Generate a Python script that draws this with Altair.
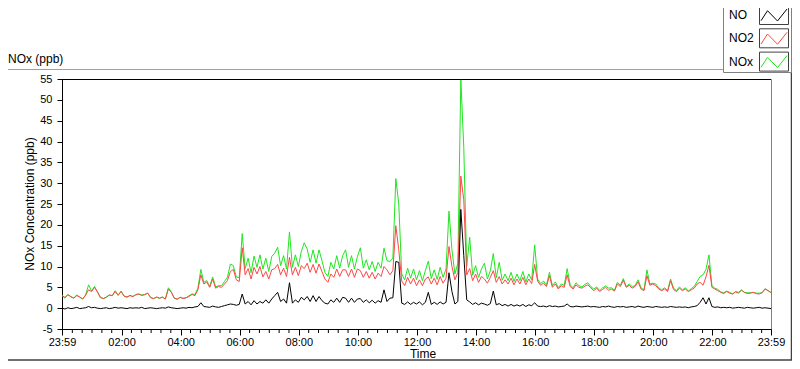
import altair as alt
import pandas as pd

# ---------------- data ----------------
# minutes since 23:59 of the previous day, one sample every 6 minutes
minutes = list(range(0, 1441, 6))

no2 = [
    3.0, 2.6, 3.2, 2.8, 2.4, 3.0, 2.7, 2.2, 3.1, 4.4,
    4.0, 5.0, 3.9, 2.6, 2.3, 2.6, 3.2, 3.0, 4.0, 3.1,
    4.0, 2.9, 2.7, 3.0, 2.8, 3.2, 3.4, 3.0, 3.3, 3.6,
    2.5, 2.3, 2.7, 2.4, 2.6, 2.2, 4.6, 3.8, 2.4, 2.2,
    2.6, 2.3, 2.5, 2.8, 3.3, 3.0, 4.4, 8.0, 5.8, 6.3,
    5.0, 7.0, 4.8, 5.2, 5.0, 5.8, 6.6, 8.8, 9.3, 6.8,
    6.4, 14.5, 8.0, 9.5, 7.0, 9.8, 8.2, 10.0, 7.5, 8.8,
    7.0, 9.2, 9.5, 10.5, 8.0, 9.6, 7.6, 12.2, 8.0, 9.8,
    7.8, 10.2, 9.5, 10.8, 8.6, 10.5, 8.4, 10.6, 8.8, 7.0,
    6.2, 8.2, 7.4, 9.4, 7.6, 9.2, 9.2, 7.6, 9.4, 7.4,
    9.4, 9.0, 7.4, 8.8, 7.2, 8.6, 7.0, 8.4, 7.6, 10.0,
    9.2, 8.0, 9.0, 19.8, 14.0, 6.5, 5.4, 7.4, 5.8, 7.2,
    5.4, 6.8, 5.4, 7.0, 7.5, 5.8, 7.2, 5.6, 7.6, 6.0,
    7.2, 14.8, 10.0, 6.8, 8.6, 31.7, 26.0, 8.0, 9.5, 6.6,
    8.2, 6.2, 7.6, 7.0, 6.0, 7.4, 9.0, 6.2, 7.6, 5.8,
    6.8, 5.8, 7.2, 5.6, 7.0, 5.8, 7.4, 5.6, 7.0, 5.9,
    10.5, 6.5, 5.5, 6.0, 5.2, 7.8, 5.0, 5.8, 4.6, 5.4,
    5.0, 8.0, 5.2, 4.6, 5.6, 5.0, 4.8, 5.3, 5.6, 4.9,
    4.2, 4.8, 4.0, 4.5, 5.0, 4.3, 4.6, 4.1, 5.8, 5.2,
    6.7, 5.0, 5.5, 4.8, 5.2, 6.3, 4.6, 4.2, 7.8, 5.5,
    5.8, 5.4, 4.6, 4.2, 4.6, 4.0, 6.6, 4.5, 4.0, 4.8,
    4.2, 4.6, 4.0, 4.4, 4.8, 5.8, 6.2, 5.5, 7.5, 10.3,
    5.0, 4.6, 4.2, 3.8, 3.5, 4.0, 3.6, 3.4, 3.9, 3.6,
    4.3, 3.8, 3.5, 3.6, 3.8, 3.5, 3.4, 3.7, 4.6, 4.2, 3.8,
]

no = [
    0.0, -0.2, 0.1, -0.1, 0.0, 0.2, -0.1, 0.0, 0.1, 0.4,
    0.1, 0.2, 0.0, -0.1, 0.0, 0.1, -0.1, 0.0, 0.2, 0.0,
    0.1, 0.0, -0.1, 0.1, 0.0, 0.1, 0.0, 0.2, -0.1, 0.0,
    0.1, 0.0, -0.1, 0.0, 0.1, 0.0, 0.3, 0.1, 0.0, -0.1,
    0.0, 0.1, 0.0, 0.2, 0.1, 0.3, 0.4, 1.3, 0.4, 0.3,
    0.2, 0.5, 0.3, 0.2, 0.4, 0.6, 0.8, 1.0, 0.9, 0.7,
    0.9, 3.4, 1.0, 1.6, 0.8, 1.8, 1.0, 1.6, 1.2, 2.0,
    1.2, 2.2, 3.0, 3.8, 1.6, 2.2, 1.2, 6.1, 1.2, 2.0,
    1.4, 2.6, 2.0, 2.8, 1.6, 3.0, 1.6, 2.8, 1.8, 1.2,
    1.0, 2.0, 1.4, 2.4, 1.4, 2.6, 2.4, 1.4, 2.4, 1.4,
    2.2, 2.3, 1.4, 2.0, 1.3, 1.9, 1.2, 1.8, 1.4, 4.4,
    1.6, 2.4, 2.5, 11.2, 11.0, 1.2, 0.9, 1.5, 0.9, 1.4,
    1.0, 1.5, 0.8, 1.4, 3.8, 0.9, 1.4, 0.9, 1.5, 1.0,
    1.4, 8.5, 4.0, 1.0, 1.6, 23.7, 12.6, 2.0, 1.5, 0.9,
    1.3, 0.8, 1.2, 1.0, 0.7, 1.1, 4.1, 0.8, 1.1, 0.6,
    0.9, 0.5, 0.9, 0.5, 0.8, 0.5, 0.9, 0.4, 0.8, 0.6,
    1.3, 0.5, 0.4, 0.5, 0.3, 0.6, 0.4, 0.5, 0.3, 0.4,
    0.5, 1.0, 0.4, 0.3, 0.5, 0.4, 0.3, 0.4, 0.5, 0.3,
    0.4, 0.3, 0.2, 0.4, 0.3, 0.5, 0.3, 0.2, 0.4, 0.3,
    0.4, 0.2, 0.3, 0.4, 0.2, 0.5, 0.3, 0.2, 0.4, 0.3,
    0.2, 0.4, 0.3, 0.2, 0.3, 0.2, 0.4, 0.3, 0.2, 0.3,
    0.2, 0.3, 0.1, 0.3, 0.4, 0.6, 1.4, 2.5, 1.0, 2.5,
    0.4, 0.2, 0.3, 0.1, 0.2, 0.1, 0.2, 0.0, 0.1, 0.2,
    0.1, 0.0, 0.2, 0.1, 0.0, 0.1, 0.2, 0.0, 0.1, 0.0, -0.1,
]

nox = [
    3.0, 2.4, 3.3, 2.7, 2.4, 3.2, 2.6, 2.2, 3.2, 5.6,
    4.1, 5.2, 3.9, 2.5, 2.3, 2.7, 3.1, 3.0, 4.2, 3.1,
    4.1, 2.9, 2.6, 3.1, 2.8, 3.3, 3.4, 3.2, 3.2, 3.6,
    2.6, 2.3, 2.6, 2.4, 2.7, 2.2, 4.9, 3.9, 2.4, 2.1,
    2.6, 2.4, 2.5, 3.0, 3.4, 3.3, 4.8, 9.3, 6.2, 6.6,
    5.2, 7.5, 5.1, 5.4, 5.4, 6.4, 7.4, 10.6, 10.2, 7.5,
    7.3, 17.9, 9.5, 12.0, 8.5, 12.5, 9.8, 12.8, 9.4, 12.0,
    8.8, 12.4, 13.2, 14.6, 10.2, 12.6, 9.4, 18.3, 9.8, 12.8,
    10.0, 13.6, 15.7, 14.2, 11.0, 14.0, 10.8, 14.0, 11.4, 8.6,
    7.6, 11.0, 9.4, 12.6, 9.6, 12.6, 14.0, 9.8, 12.6, 9.4,
    12.4, 14.5, 9.6, 11.6, 9.2, 11.2, 8.8, 11.0, 9.6, 14.4,
    11.4, 11.2, 12.0, 31.1, 25.0, 8.2, 6.8, 9.6, 7.2, 9.4,
    6.8, 9.0, 6.6, 9.0, 11.3, 7.1, 9.2, 6.9, 9.8, 7.4,
    9.4, 23.3, 14.0, 8.2, 10.8, 55.0, 38.6, 10.0, 17.0, 7.9,
    10.2, 7.4, 9.4, 10.8, 7.0, 9.0, 13.1, 7.3, 11.0, 6.7,
    8.2, 6.6, 8.6, 6.4, 8.2, 6.6, 8.8, 6.3, 8.2, 6.8,
    15.2, 7.0, 5.9, 6.5, 5.5, 8.6, 5.4, 6.3, 4.9, 5.8,
    5.5, 9.5, 5.6, 4.9, 6.1, 5.4, 5.1, 5.7, 6.1, 5.2,
    4.6, 5.1, 4.2, 4.9, 5.3, 4.8, 4.9, 4.3, 6.2, 5.5,
    7.1, 5.2, 5.8, 5.2, 5.4, 6.8, 4.9, 4.4, 9.2, 5.8,
    6.0, 5.8, 4.9, 4.4, 4.9, 4.2, 7.0, 4.8, 4.2, 5.1,
    4.4, 4.9, 4.1, 4.7, 5.2, 6.4, 7.6, 8.0, 9.3, 12.8,
    5.4, 4.8, 4.5, 3.9, 3.7, 4.1, 3.8, 3.4, 4.0, 3.8,
    4.4, 3.8, 3.7, 3.7, 3.8, 3.6, 3.6, 3.7, 4.7, 4.2, 3.7,
]

legend_names = ["NO", "NO2", "NOx"]
legend_colors = ["#000000", "#ff4646", "#1ee61e"]

major_ticks = [0, 121, 241, 361, 481, 601, 721, 841, 961, 1081, 1201, 1321, 1440]
minor_ticks = [m for m in range(21, 1440, 20) if (m - 1) % 120 != 0]
y_ticks = list(range(-5, 56, 5))

chart_title = "NOx (ppb)"
y_title = "NOx Concentration (ppb)"
x_title = "Time"

# ---------------- styling ----------------
FONT = "Liberation Sans"
FS = 12      # titles / legend
FL = 11      # tick labels
W, H = 709, 250

x_enc = alt.X(
    "t:Q",
    scale=alt.Scale(domain=[0, 1440], nice=False, zero=False),
    axis=alt.Axis(
        values=major_ticks,
        labelExpr="timeFormat(datetime(2000, 0, 1, 0, (datum.value + 1439) % 1440), '%H:%M')",
        title=None, grid=False, tickSize=6, labelPadding=1,
        labelFlush=False, labelOverlap=False,
        domainColor="black", tickColor="black", labelColor="black",
        labelFont=FONT, labelFontSize=FL,
    ),
)
y_enc = alt.Y(
    "v:Q",
    scale=alt.Scale(domain=[-5, 55], nice=False, zero=False),
    axis=alt.Axis(
        values=y_ticks, labelExpr="'' + datum.value",
        title=None, grid=False, tickSize=5, labelPadding=5,
        labelFlush=False, labelOverlap=False,
        domainColor="black", tickColor="black", labelColor="black",
        labelFont=FONT, labelFontSize=FL,
    ),
)


def sdf(vals):
    return pd.DataFrame({"t": minutes, "v": vals})


one = pd.DataFrame({"k": [0]})

layers = []
# data lines: NOx behind, NO2, then NO on top
for vals, col in [(nox, legend_colors[2]), (no2, legend_colors[1]), (no, legend_colors[0])]:
    layers.append(
        alt.Chart(sdf(vals)).mark_line(color=col, strokeWidth=1).encode(x=x_enc, y=y_enc)
    )

# minor x ticks
layers.append(
    alt.Chart(pd.DataFrame({"t": minor_ticks, "v": [0] * len(minor_ticks)}))
    .mark_rule(color="black", strokeWidth=1)
    .encode(x=x_enc, y=alt.value(H + 1), y2=alt.value(H + 4))
)

# top border of plot (black)
layers.append(
    alt.Chart(one).mark_rule(color="black", strokeWidth=1)
    .encode(x=alt.value(0), x2=alt.value(W), y=alt.value(0.5))
)

# outer panel frame
RIGHT = 729.5
layers.append(
    alt.Chart(one).mark_rule(color="#a0a0a0", strokeWidth=1)
    .encode(x=alt.value(-54), x2=alt.value(661), y=alt.value(-9.5))
)
layers.append(
    alt.Chart(one).mark_rule(color="#404040", strokeWidth=1.5)
    .encode(x=alt.value(RIGHT), y=alt.value(-7), y2=alt.value(281.5))
)
layers.append(
    alt.Chart(one).mark_rule(color="#404040", strokeWidth=1.5)
    .encode(x=alt.value(-54), x2=alt.value(RIGHT), y=alt.value(281))
)

# texts
layers.append(
    alt.Chart(one).mark_text(text=chart_title, font=FONT, fontSize=FS, align="left",
                             baseline="middle", color="black")
    .encode(x=alt.value(-54), y=alt.value(-20))
)
layers.append(
    alt.Chart(one).mark_text(text=y_title, font=FONT, fontSize=FS, align="center",
                             baseline="middle", angle=270, color="black")
    .encode(x=alt.value(-32), y=alt.value(H / 2))
)
layers.append(
    alt.Chart(one).mark_text(text=x_title, font=FONT, fontSize=FS, align="center",
                             baseline="middle", color="black")
    .encode(x=alt.value(361), y=alt.value(275))
)

# legend box
layers.append(
    alt.Chart(one).mark_rect(fill="white", stroke="#808080", strokeWidth=1)
    .encode(x=alt.value(661.5), x2=alt.value(RIGHT), y=alt.value(-80), y2=alt.value(-6.5))
)
ZIG = "M -1 0.44 L -0.5 -0.33 L 0.27 0.46 L 1 -0.46"
for k, (name, col) in enumerate(zip(legend_names, legend_colors)):
    yc = -64 + k * 23.3
    layers.append(
        alt.Chart(one).mark_text(text=name, font=FONT, fontSize=FS, align="left",
                                 baseline="middle", color="black")
        .encode(x=alt.value(667), y=alt.value(yc))
    )
    layers.append(
        alt.Chart(one).mark_rect(fill="white", stroke="#404040", strokeWidth=1)
        .encode(x=alt.value(697.5), x2=alt.value(726.5), y=alt.value(yc - 9.5), y2=alt.value(yc + 9.5))
    )
    layers.append(
        alt.Chart(one).mark_point(shape=ZIG, filled=False, size=676, strokeWidth=1,
                                  color=col, opacity=1)
        .encode(x=alt.value(712), y=alt.value(yc))
    )

chart = (
    alt.layer(*layers)
    .properties(
        width=W, height=H,
        padding={"left": 54, "top": 71, "right": 21, "bottom": 32},
        autosize=alt.AutoSizeParams(type="none"),
        background="white",
    )
    .configure_view(stroke="#808080", strokeWidth=1)
)

chart.save("out.html", embed_options={"renderer": "svg", "actions": False})
